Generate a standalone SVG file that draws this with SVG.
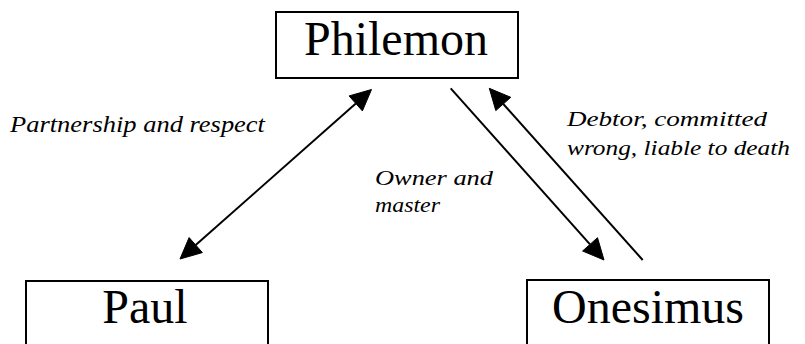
<svg xmlns="http://www.w3.org/2000/svg" width="805" height="344" viewBox="0 0 805 344">
<style>
.box{fill:#fff;stroke:#000;stroke-width:2}
.name{font-family:"Liberation Serif","Times New Roman",serif;font-size:48px;fill:#000;text-anchor:middle}
.lbl{font-family:"Liberation Serif","Times New Roman",serif;font-style:italic;fill:#000}
.conn{stroke:#000;stroke-width:2}
.head{fill:#000;stroke:#000;stroke-width:1;stroke-linejoin:miter}
</style>
<rect width="805" height="344" fill="#fff"/>
<g id="connectors">
<line class="conn" x1="195.7" y1="245.1" x2="355.8" y2="103.4"/>
<polygon class="head" points="371.5,89.5 362.4,110.9 349.1,95.9"/>
<polygon class="head" points="180,259 202.4,252.6 189.1,237.6"/>
<line class="conn" x1="450.7" y1="88.3" x2="590" y2="244.3"/>
<polygon class="head" points="604,260 582.6,251 597.5,237.7"/>
<line class="conn" x1="642.7" y1="260" x2="503.3" y2="104"/>
<polygon class="head" points="489.3,88.3 510.8,97.3 495.8,110.6"/>
</g>
<g id="philemon">
<rect class="box" x="276" y="12" width="242" height="66"/>
<text class="name" x="396" y="55">Philemon</text>
</g>
<g id="paul">
<rect class="box" x="26" y="281" width="242" height="75"/>
<text class="name" x="145" y="323">Paul</text>
</g>
<g id="onesimus">
<rect class="box" x="527" y="280" width="242" height="75"/>
<text class="name" x="648" y="323">Onesimus</text>
</g>
<g id="labels">
<text class="lbl" x="10" y="131.5" font-size="23" textLength="255" lengthAdjust="spacingAndGlyphs">Partnership and respect</text>
<text class="lbl" x="375" y="185" font-size="21" textLength="118" lengthAdjust="spacingAndGlyphs">Owner and</text>
<text class="lbl" x="375" y="211.5" font-size="21" textLength="65" lengthAdjust="spacingAndGlyphs">master</text>
<text class="lbl" x="567" y="126" font-size="22" textLength="200" lengthAdjust="spacingAndGlyphs">Debtor, committed</text>
<text class="lbl" x="567" y="155" font-size="22" textLength="223" lengthAdjust="spacingAndGlyphs">wrong, liable to death</text>
</g>
</svg>
